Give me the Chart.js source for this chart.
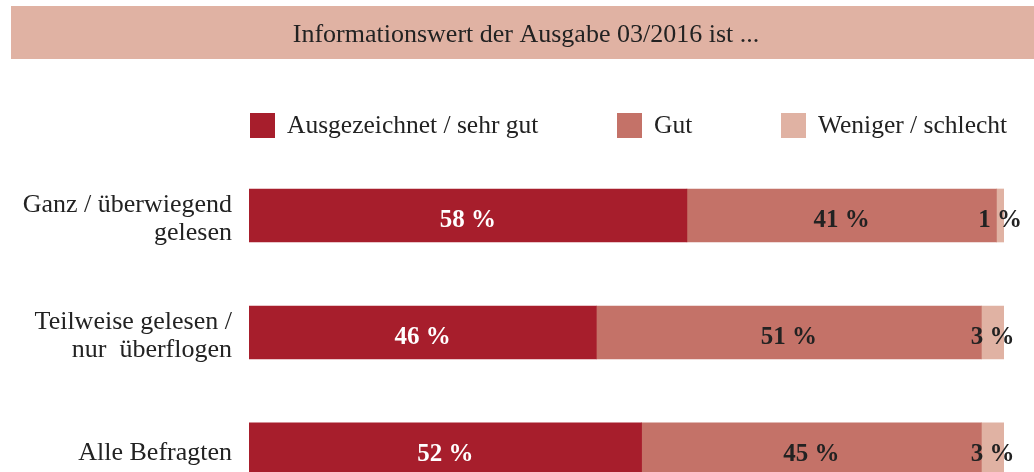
<!DOCTYPE html>
<html lang="de">
<head>
<meta charset="utf-8">
<title>Informationswert der Ausgabe 03/2016</title>
<script src="https://cdn.jsdelivr.net/npm/chart.js@4/dist/chart.umd.min.js"></script>
<style>
    html, body {
        margin: 0;
        padding: 0;
        background: #ffffff;
        overflow: hidden;
    }
    #infoChart {
        display: block;
    }
</style>
</head>
<body>
<!-- Die letzte Zeile ist im Original unten abgeschnitten, daher ist die Leinwand hoeher als das Fenster -->
<canvas id="infoChart" width="1034" height="553"></canvas>
<script>
// ===========================
// DATA
// ===========================

const titleText = "Informationswert der Ausgabe 03/2016 ist ...";

const categories = [
    ["Ganz / überwiegend", "gelesen"],
    ["Teilweise gelesen /", "nur  überflogen"],
    "Alle Befragten"
];

const seriesNames = ["Ausgezeichnet / sehr gut", "Gut", "Weniger / schlecht"];

const sehrGut = [58, 46, 52];
const gut = [41, 51, 45];
const schlecht = [1, 3, 3];

const seriesColors = ["#a71e2c", "#c47268", "#e0b2a3"];
const labelColors = ["#ffffff", "#222222", "#222222"];

// ===========================
// PLUGIN: Kopfzeile + Legende
// ===========================

const FONT = "'Liberation Serif', 'Times New Roman', serif";

const headerPlugin = {
    id: "header",
    beforeDraw(chart) {
        const c = chart.ctx;
        c.save();

        // Band
        c.fillStyle = "#e0b2a3";
        c.fillRect(11, 6, chart.width - 11, 53);

        c.fillStyle = "#222222";
        c.font = "26px " + FONT;
        c.textAlign = "center";
        c.textBaseline = "alphabetic";
        c.fillText(titleText, 526, 42);

        // Legende
        const legendX = [250, 617, 781];
        c.font = "25.5px " + FONT;
        c.textAlign = "left";
        chart.data.datasets.forEach((ds, i) => {
            c.fillStyle = ds.backgroundColor;
            c.fillRect(legendX[i], 113, 25, 25);
            c.fillStyle = "#222222";
            c.fillText(ds.label, legendX[i] + 37, 133);
        });

        c.restore();
    }
};

const valueLabelPlugin = {
    id: "valueLabels",
    afterDatasetsDraw(chart) {
        const c = chart.ctx;
        c.save();
        c.font = "bold 25px " + FONT;
        c.textAlign = "center";
        c.textBaseline = "middle";

        chart.data.datasets.forEach((ds, i) => {
            const meta = chart.getDatasetMeta(i);
            meta.data.forEach((bar, j) => {
                const p = bar.getProps(["x", "y", "base"], true);
                const cx = (p.x + p.base) / 2;
                c.fillStyle = labelColors[i];
                c.fillText(ds.data[j] + " %", cx, p.y + 5);
            });
        });

        c.restore();
    }
};

// ===========================
// CHART
// ===========================

const ctx = document.getElementById("infoChart").getContext("2d");

const infoChart = new Chart(ctx, {
    type: "bar",
    data: {
        labels: categories,
        datasets: [
            { label: seriesNames[0], data: sehrGut, backgroundColor: seriesColors[0] },
            { label: seriesNames[1], data: gut, backgroundColor: seriesColors[1] },
            { label: seriesNames[2], data: schlecht, backgroundColor: seriesColors[2] }
        ]
    },
    options: {
        indexAxis: "y",
        responsive: false,
        animation: false,
        layout: {
            padding: { left: 0, right: 30, top: 157, bottom: 0 }
        },
        datasets: {
            bar: {
                barThickness: 53,
                borderWidth: 0
            }
        },
        scales: {
            x: {
                stacked: true,
                min: 0,
                max: 100,
                display: false
            },
            y: {
                stacked: true,
                grid: { display: false, drawTicks: false },
                border: { display: false },
                ticks: {
                    padding: 17,
                    labelOffset: 4,
                    color: "#222222",
                    font: { family: FONT, size: 26, lineHeight: 1.08 }
                },
                afterFit(scale) {
                    scale.width = 249;
                }
            }
        },
        plugins: {
            legend: { display: false },
            tooltip: { enabled: false }
        }
    },
    plugins: [headerPlugin, valueLabelPlugin]
});
</script>
</body>
</html>
